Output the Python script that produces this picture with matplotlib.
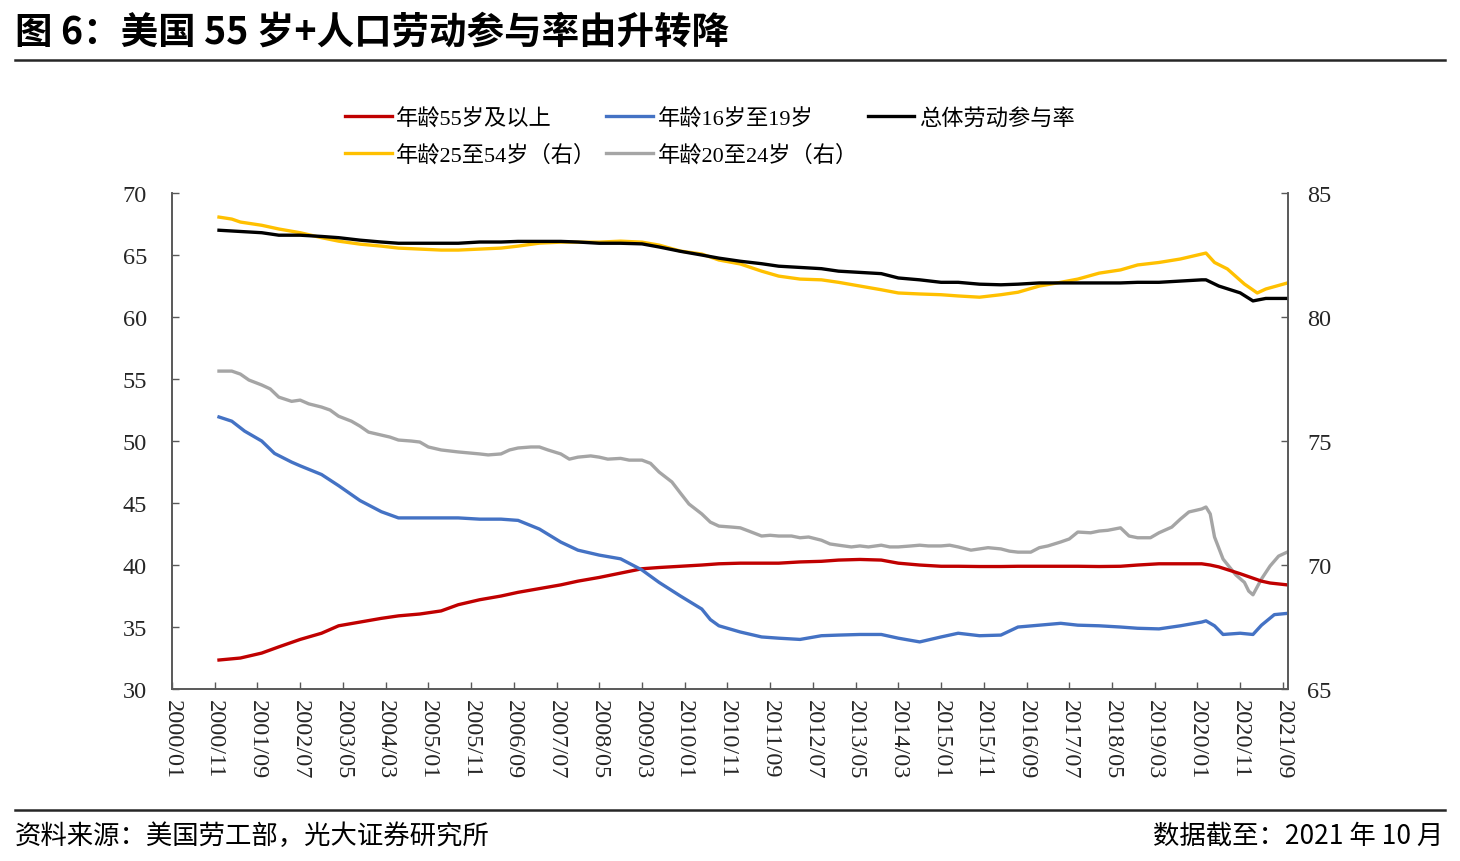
import matplotlib
matplotlib.use("Agg")
import matplotlib.pyplot as plt
from matplotlib.lines import Line2D

plt.rcParams['font.family'] = ['Liberation Serif', 'Noto Sans CJK SC', 'DejaVu Sans']

# x tick labels (monthly axis, index 0 = 2000/01)
tick_labels = ['2000/01', '2000/11', '2001/09', '2002/07', '2003/05', '2004/03', '2005/01',
               '2005/11', '2006/09', '2007/07', '2008/05', '2009/03', '2010/01', '2010/11',
               '2011/09', '2012/07', '2013/05', '2014/03', '2015/01', '2015/11', '2016/09',
               '2017/07', '2018/05', '2019/03', '2020/01', '2020/11', '2021/09']

# 年龄55岁及以上 (left axis)
m_55 = [11, 16, 21, 25, 30, 35, 39, 44, 49, 53, 58, 63, 67, 72, 77, 81, 86, 91, 95, 100,
        105, 110, 114, 119, 124, 128, 133, 138, 142, 147, 152, 156, 161, 166, 170, 175, 180,
        184, 189, 194, 198, 203, 208, 212, 217, 222, 226, 231, 236, 241, 243, 245, 250, 255,
        257, 261]
v_55 = [32.34, 32.5, 32.9, 33.4, 34.0, 34.5, 35.1, 35.4, 35.7, 35.9, 36.05, 36.3, 36.8, 37.2,
        37.5, 37.8, 38.1, 38.4, 38.7, 39.0, 39.35, 39.7, 39.8, 39.9, 40.0, 40.1, 40.15, 40.15,
        40.15, 40.25, 40.3, 40.4, 40.45, 40.4, 40.15, 40.0, 39.9, 39.9, 39.88, 39.88, 39.9,
        39.9, 39.9, 39.9, 39.88, 39.9, 40.0, 40.1, 40.1, 40.1, 40.0, 39.85, 39.3, 38.7, 38.55,
        38.4]

# 年龄16岁至19岁 (left axis)
m_16 = [11, 14, 17, 21, 24, 28, 30, 35, 39, 44, 49, 53, 58, 63, 67, 72, 77, 81, 86, 91, 95,
        100, 105, 110, 114, 119, 124, 126, 128, 133, 138, 142, 147, 152, 156, 161, 166, 170,
        175, 180, 184, 189, 194, 198, 203, 208, 212, 217, 222, 226, 231, 236, 241, 242, 244,
        246, 250, 253, 255, 258, 261]
v_16 = [51.94, 51.6, 50.8, 50.0, 49.0, 48.3, 48.0, 47.3, 46.4, 45.2, 44.3, 43.8, 43.8, 43.8,
        43.8, 43.7, 43.7, 43.6, 42.9, 41.85, 41.2, 40.8, 40.5, 39.6, 38.6, 37.5, 36.45, 35.6,
        35.1, 34.6, 34.2, 34.1, 34.0, 34.3, 34.35, 34.4, 34.4, 34.1, 33.8, 34.2, 34.5, 34.3,
        34.35, 35.0, 35.15, 35.3, 35.15, 35.1, 35.0, 34.9, 34.85, 35.1, 35.4, 35.5, 35.1,
        34.4, 34.5, 34.4, 35.15, 36.0, 36.1]

# 总体劳动参与率 (left axis)
m_all = [11, 16, 21, 25, 30, 35, 39, 44, 49, 53, 58, 63, 67, 72, 77, 81, 86, 91, 95, 100,
         105, 110, 114, 119, 124, 128, 133, 138, 142, 147, 152, 156, 161, 166, 170, 175, 180,
         184, 189, 194, 198, 203, 208, 212, 217, 222, 226, 231, 236, 241, 242, 245, 250, 253,
         256, 261]
v_all = [67.0, 66.9, 66.8, 66.6, 66.6, 66.5, 66.4, 66.2, 66.05, 65.95, 65.95, 65.95, 65.95,
         66.05, 66.05, 66.1, 66.1, 66.1, 66.05, 65.95, 65.95, 65.9, 65.65, 65.3, 65.0, 64.75,
         64.5, 64.3, 64.1, 64.0, 63.9, 63.7, 63.6, 63.5, 63.15, 63.0, 62.8, 62.8, 62.65, 62.6,
         62.65, 62.75, 62.75, 62.75, 62.75, 62.75, 62.8, 62.8, 62.9, 63.0, 63.0, 62.5, 61.95,
         61.3, 61.5, 61.5]

# 年龄25至54岁 (right axis)
m_25 = [11, 14, 16, 21, 25, 30, 35, 39, 44, 49, 53, 58, 63, 67, 72, 77, 81, 86, 91, 95, 100,
        105, 110, 114, 119, 124, 128, 133, 138, 142, 147, 152, 156, 161, 166, 170, 175, 180,
        184, 189, 194, 198, 203, 208, 212, 217, 222, 226, 231, 236, 241, 242, 244, 247, 251,
        254, 256, 261]
v_25 = [84.03, 83.95, 83.83, 83.7, 83.55, 83.4, 83.2, 83.06, 82.94, 82.86, 82.78, 82.74, 82.7,
        82.7, 82.74, 82.78, 82.86, 82.98, 83.02, 83.02, 83.02, 83.06, 83.02, 82.9, 82.66,
        82.54, 82.3, 82.14, 81.85, 81.65, 81.53, 81.5, 81.4, 81.25, 81.1, 80.97, 80.93, 80.9,
        80.85, 80.8, 80.9, 81.0, 81.25, 81.4, 81.53, 81.77, 81.9, 82.1, 82.2, 82.34, 82.54,
        82.58, 82.2, 81.94, 81.33, 80.97, 81.13, 81.37]

# 年龄20至24岁 (right axis)
m_20 = [11, 14, 16, 18, 21, 23, 25, 28, 30, 32, 35, 37, 39, 42, 44, 46, 49, 51, 53, 56, 58,
        60, 63, 67, 72, 74, 77, 79, 81, 84, 86, 88, 91, 93, 95, 98, 100, 102, 105, 107, 110,
        112, 114, 117, 119, 121, 124, 126, 128, 131, 133, 135, 138, 140, 142, 145, 147, 149,
        152, 154, 156, 159, 161, 163, 166, 168, 170, 173, 175, 177, 180, 182, 184, 187, 189,
        191, 194, 196, 198, 201, 203, 205, 208, 210, 212, 215, 217, 219, 222, 224, 226, 229,
        231, 234, 236, 238, 241, 242, 243, 244, 246, 249, 251, 252, 253, 255, 257, 259, 261]
v_20 = [77.82, 77.82, 77.7, 77.46, 77.26, 77.1, 76.77, 76.6, 76.65, 76.5, 76.37, 76.25, 76.0,
        75.8, 75.6, 75.36, 75.24, 75.16, 75.04, 75.0, 74.96, 74.76, 74.64, 74.56, 74.48, 74.44,
        74.48, 74.64, 74.72, 74.76, 74.76, 74.64, 74.48, 74.27, 74.35, 74.4, 74.35, 74.27,
        74.3, 74.23, 74.23, 74.1, 73.75, 73.35, 72.9, 72.46, 72.06, 71.73, 71.57, 71.53, 71.5,
        71.37, 71.17, 71.2, 71.17, 71.17, 71.1, 71.13, 71.0, 70.85, 70.8, 70.73, 70.77, 70.73,
        70.8, 70.73, 70.73, 70.77, 70.8, 70.77, 70.77, 70.8, 70.73, 70.6, 70.65, 70.7, 70.65,
        70.56, 70.52, 70.52, 70.7, 70.77, 70.93, 71.05, 71.33, 71.3, 71.37, 71.4, 71.5, 71.17,
        71.1, 71.1, 71.3, 71.53, 71.85, 72.14, 72.26, 72.34, 72.06, 71.13, 70.24, 69.6, 69.3,
        68.95, 68.8, 69.44, 69.96, 70.36, 70.52]

tick_pos = [(int(s[:4]) - 2000) * 12 + int(s[5:]) - 1 for s in tick_labels]

fig = plt.figure(figsize=(14.6, 8.62), dpi=100)
ax = fig.add_axes([0.1178, 0.1995, 0.7644, 0.5754])
ax2 = ax.twinx()

lw = 2.4
l1, = ax.plot(m_55, v_55, color='#C00000', lw=lw, label='年龄55岁及以上')
l2, = ax.plot(m_16, v_16, color='#4472C4', lw=lw, label='年龄16岁至19岁')
l3, = ax.plot(m_all, v_all, color='#000000', lw=lw, label='总体劳动参与率')
l4, = ax2.plot(m_25, v_25, color='#FFC000', lw=lw, label='年龄25至54岁（右）')
l5, = ax2.plot(m_20, v_20, color='#A5A5A5', lw=lw, label='年龄20至24岁（右）')
ax.set_zorder(ax2.get_zorder() + 1)
ax.patch.set_visible(False)

ax.set_xlim(0, 261.2)
ax.set_ylim(30, 70)
ax2.set_ylim(65, 85)
ax.set_yticks(range(30, 71, 5))
ax2.set_yticks(range(65, 86, 5))
ax.set_xticks(tick_pos)
ax.set_xticklabels(tick_labels, rotation=-90)

axis_col = '#595959'
for a in (ax, ax2):
    a.spines['top'].set_visible(False)
    for s in ('left', 'right', 'bottom'):
        a.spines[s].set_color(axis_col)
        a.spines[s].set_linewidth(1.2)
    a.tick_params(direction='in', length=5, width=1, color=axis_col, labelsize=17.5,
                  labelcolor='#262626')
ax.tick_params(axis='y', pad=18)
ax.tick_params(axis='x', pad=7)
ax2.tick_params(axis='y', pad=14)

fig.legend(handles=[l1, l4, l2, l5, l3], ncol=3, loc='upper left',
           bbox_to_anchor=(345 / 1460, 1 - 109 / 862), frameon=False,
           prop={'family': ['Liberation Serif', 'Noto Sans CJK SC'], 'size': 16},
           handlelength=2.1, handletextpad=0.2, columnspacing=0.45, labelspacing=0.68,
           borderpad=0, borderaxespad=0)

fig.text(15 / 1460, 1 - 32 / 862, '图 6：美国 55 岁+人口劳动参与率由升转降', fontsize=27,
         fontweight='bold', family='Noto Sans CJK SC', va='center', ha='left')
fig.add_artist(Line2D([15 / 1460, 1445 / 1460], [1 - 61 / 862, 1 - 61 / 862],
                      color='#262626', lw=1.8))
fig.add_artist(Line2D([15 / 1460, 1445 / 1460], [1 - 811 / 862, 1 - 811 / 862],
                      color='#262626', lw=1.8))
fig.text(15 / 1460, 1 - 836 / 862, '资料来源：美国劳工部，光大证券研究所', fontsize=19,
         family='Noto Sans CJK SC', va='center', ha='left')
fig.text(1443 / 1460, 1 - 836 / 862, '数据截至：2021 年 10 月', fontsize=19,
         family='Noto Sans CJK SC', va='center', ha='right')

fig.savefig('out.png', dpi=100)
